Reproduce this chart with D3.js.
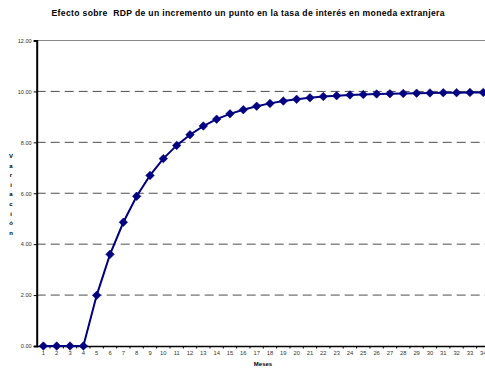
<!DOCTYPE html>
<html>
<head>
<meta charset="utf-8">
<script src="https://cdn.jsdelivr.net/npm/d3@7"></script>
<style>
  html, body { margin: 0; padding: 0; background: #fff; }
  svg { display: block; font-family: "Liberation Sans", Arial, sans-serif; }
</style>
</head>
<body>
<svg id="chart" width="485" height="369"></svg>
<script>
// Months on the horizontal axis
const months = d3.range(1, 35);

// Response of RDP to a one-point rise in the foreign-currency interest rate
const variation = [
  0.00, 0.00, 0.00, 0.00, 1.99, 3.60, 4.86, 5.88, 6.70, 7.36,
  7.88, 8.30, 8.64, 8.91, 9.12, 9.28, 9.42, 9.53, 9.62, 9.69,
  9.75, 9.80, 9.83, 9.86, 9.88, 9.90, 9.91, 9.92, 9.93, 9.94,
  9.95, 9.95, 9.96, 9.96
];

const yTicks = [0, 2, 4, 6, 8, 10, 12];

const titleText = "Efecto sobre  RDP de un incremento un punto en la tasa de interés en moneda extranjera";
const xTitle = "Meses";
const yTitle = "Variación";

const svg = d3.select("#chart");

const plotLeft = 36.7, plotTop = 40.5, plotBottom = 346;
const step = 13.33;

const x = d3.scaleBand()
  .domain(months)
  .range([plotLeft, plotLeft + step * months.length])
  .paddingInner(0).paddingOuter(0);

const y = d3.scaleLinear().domain([0, 12]).range([plotBottom, plotTop]);

// Title
svg.append("text")
  .attr("x", 51.5).attr("y", 16)
  .attr("font-size", 8.6).attr("font-weight", "bold")
  .attr("fill", "#000")
  .attr("textLength", 393)
  .attr("lengthAdjust", "spacing")
  .style("white-space", "pre")
  .text(titleText);

// Dashed horizontal gridlines
svg.append("g")
  .selectAll("line")
  .data(yTicks.filter(d => d > 0))
  .join("line")
  .attr("x1", plotLeft).attr("x2", 485)
  .attr("y1", d => y(d)).attr("y2", d => y(d))
  .attr("stroke", "#222")
  .attr("stroke-width", 1)
  .attr("stroke-dasharray", "9,5")
  .attr("stroke-opacity", 0.8);

// Plot area top border
svg.append("line")
  .attr("x1", plotLeft).attr("x2", 485)
  .attr("y1", y(12)).attr("y2", y(12))
  .attr("stroke", "#888").attr("stroke-width", 1);

// Y axis
const yAxis = d3.axisLeft(y)
  .tickValues(yTicks)
  .tickFormat(d3.format(".2f"))
  .tickSize(3)
  .tickPadding(2);

const gy = svg.append("g")
  .attr("transform", `translate(${plotLeft},0)`)
  .call(yAxis);
gy.select(".domain").attr("stroke", "#000").attr("stroke-width", 2);
gy.selectAll(".tick line").attr("stroke", "#000");
gy.selectAll(".tick text")
  .attr("font-size", 5.6)
  .attr("fill", "#333")
  .attr("font-family", "Liberation Sans, Arial, sans-serif");

// X axis
const xAxis = d3.axisBottom(x)
  .tickSize(0)
  .tickPadding(5);

const gx = svg.append("g")
  .attr("transform", `translate(0,${plotBottom})`)
  .call(xAxis);
gx.select(".domain").attr("stroke", "#000").attr("stroke-width", 1.5);
gx.selectAll(".tick text")
  .attr("font-size", 5.8)
  .attr("fill", "#333")
  .attr("font-family", "Liberation Sans, Arial, sans-serif");

// Small ticks between categories
gx.append("g")
  .selectAll("line")
  .data(months.slice(1))
  .join("line")
  .attr("x1", d => x(d)).attr("x2", d => x(d))
  .attr("y1", 0).attr("y2", 2.5)
  .attr("stroke", "#000").attr("stroke-width", 1);

// Axis titles
svg.append("text")
  .attr("x", 263).attr("y", 366)
  .attr("text-anchor", "middle")
  .attr("font-size", 6).attr("font-weight", "bold")
  .text(xTitle);

svg.append("g")
  .selectAll("text")
  .data(Array.from(yTitle))
  .join("text")
  .attr("x", 11)
  .attr("y", (d, i) => 158 + i * 9.6)
  .attr("text-anchor", "middle")
  .attr("font-size", 6).attr("font-weight", "bold")
  .text(d => d);

// Series line
const cx = d => x(d) + x.bandwidth() / 2;

const line = d3.line()
  .x((d, i) => cx(months[i]))
  .y(d => y(d));

svg.append("path")
  .datum(variation)
  .attr("d", line)
  .attr("fill", "none")
  .attr("stroke", "#000080")
  .attr("stroke-width", 2);

// Diamond markers
const diamond = d3.symbol().type(d3.symbolDiamond2).size(46);

svg.append("g")
  .selectAll("path")
  .data(variation)
  .join("path")
  .attr("transform", (d, i) => `translate(${cx(months[i])},${y(d)})`)
  .attr("d", diamond)
  .attr("fill", "#000080")
  .attr("stroke", "#000080")
  .attr("stroke-width", 0.6);
</script>
</body>
</html>
